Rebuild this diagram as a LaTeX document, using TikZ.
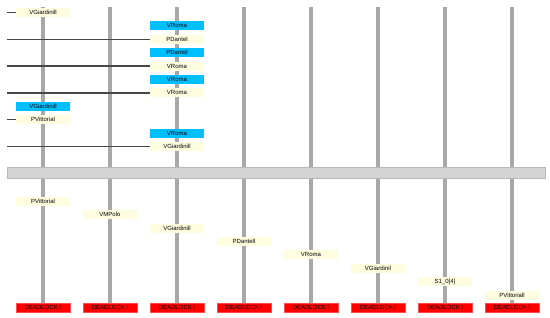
\documentclass[tikz,border=0pt]{standalone}
\usepackage{fontspec}
\setmainfont{Liberation Sans}
\definecolor{putblue}{RGB}{0,191,255}
\definecolor{getyellow}{RGB}{255,253,224}
\definecolor{linegray}{RGB}{168,168,168}
\begin{document}
\begin{tikzpicture}[
  x=1pt, y=-1pt,
  lifeline/.style={draw=linegray, line width=3.2pt},
  sendline/.style={draw=black!72, line width=1.5pt},
  msgbox/.style={minimum width=54pt, minimum height=9pt, inner sep=0pt, font=\fontsize{6}{6}\selectfont},
  getbox/.style={msgbox, fill=getyellow},
  putbox/.style={msgbox, fill=putblue},
  lockbox/.style={msgbox, fill=red, draw=red!70!white}
]
\useasboundingbox (0,0) rectangle (550,317);
% deadlock marks at the foot of each lifeline
\node[lockbox] (d1) at (43,307.5) {DEADLOCK !};
\node[lockbox] (d2) at (110,307.5) {DEADLOCK !};
\node[lockbox] (d3) at (177,307.5) {DEADLOCK !};
\node[lockbox] (d4) at (244,307.5) {DEADLOCK !};
\node[lockbox] (d5) at (311,307.5) {DEADLOCK !};
\node[lockbox] (d6) at (378,307.5) {DEADLOCK !};
\node[lockbox] (d7) at (445,307.5) {DEADLOCK !};
\node[lockbox] (d8) at (512,307.5) {DEADLOCK !};
\coordinate (t1) at (43,7);
\coordinate (t2) at (110,7);
\coordinate (t3) at (177,7);
\coordinate (t4) at (244,7);
\coordinate (t5) at (311,7);
\coordinate (t6) at (378,7);
\coordinate (t7) at (445,7);
\coordinate (t8) at (512,7);
\draw[lifeline] (t1) -- (d1.north);
\draw[lifeline] (t2) -- (d2.north);
\draw[lifeline] (t3) -- (d3.north);
\draw[lifeline] (t4) -- (d4.north);
\draw[lifeline] (t5) -- (d5.north);
\draw[lifeline] (t6) -- (d6.north);
\draw[lifeline] (t7) -- (d7.north);
\draw[lifeline] (t8) -- (d8.north);
% separator band
\draw[fill=black!17, draw=black!28, line width=0.6pt] (7,167) rectangle (545,178);
% upper part
\node[getbox] (g1) at (43,12.5) {VGiardinill};
\node[putbox] (p1) at (177,25.9) {VRoma};
\node[getbox] (g2) at (177,39.3) {PDantel};
\node[putbox] (p2) at (177,52.7) {PDantel};
\node[getbox] (g3) at (177,66.1) {VRoma};
\node[putbox] (p3) at (177,79.5) {VRoma};
\node[getbox] (g4) at (177,92.9) {VRoma};
\node[putbox] (p4) at (43,106.3) {VGiardinill};
\node[getbox] (g5) at (43,119.7) {PVittorial};
\node[putbox] (p5) at (177,133.1) {VRoma};
\node[getbox] (g6) at (177,146.5) {VGiardinill};
\coordinate (s1) at (7,12.5);
\coordinate (s2) at (7,39.3);
\coordinate (s3) at (7,66.1);
\coordinate (s4) at (7,92.9);
\coordinate (s5) at (7,119.7);
\coordinate (s6) at (7,146.5);
\draw[sendline] (s1) -- (g1.west);
\draw[sendline] (s2) -- (g2.west);
\draw[sendline] (s3) -- (g3.west);
\draw[sendline] (s4) -- (g4.west);
\draw[sendline] (s5) -- (g5.west);
\draw[sendline] (s6) -- (g6.west);
% lower part
\node[getbox] (b1) at (43,201.3) {PVittorial};
\node[getbox] (b2) at (110,214.7) {VMPolo};
\node[getbox] (b3) at (177,228.1) {VGiardinill};
\node[getbox] (b4) at (244,241.5) {PDantell};
\node[getbox] (b5) at (311,254.9) {VRoma};
\node[getbox] (b6) at (378,268.3) {VGiardinil};
\node[getbox] (b7) at (445,281.7) {S1\_0[4]};
\node[getbox] (b8) at (512,295.1) {PVittoriall};
\end{tikzpicture}
\end{document}
